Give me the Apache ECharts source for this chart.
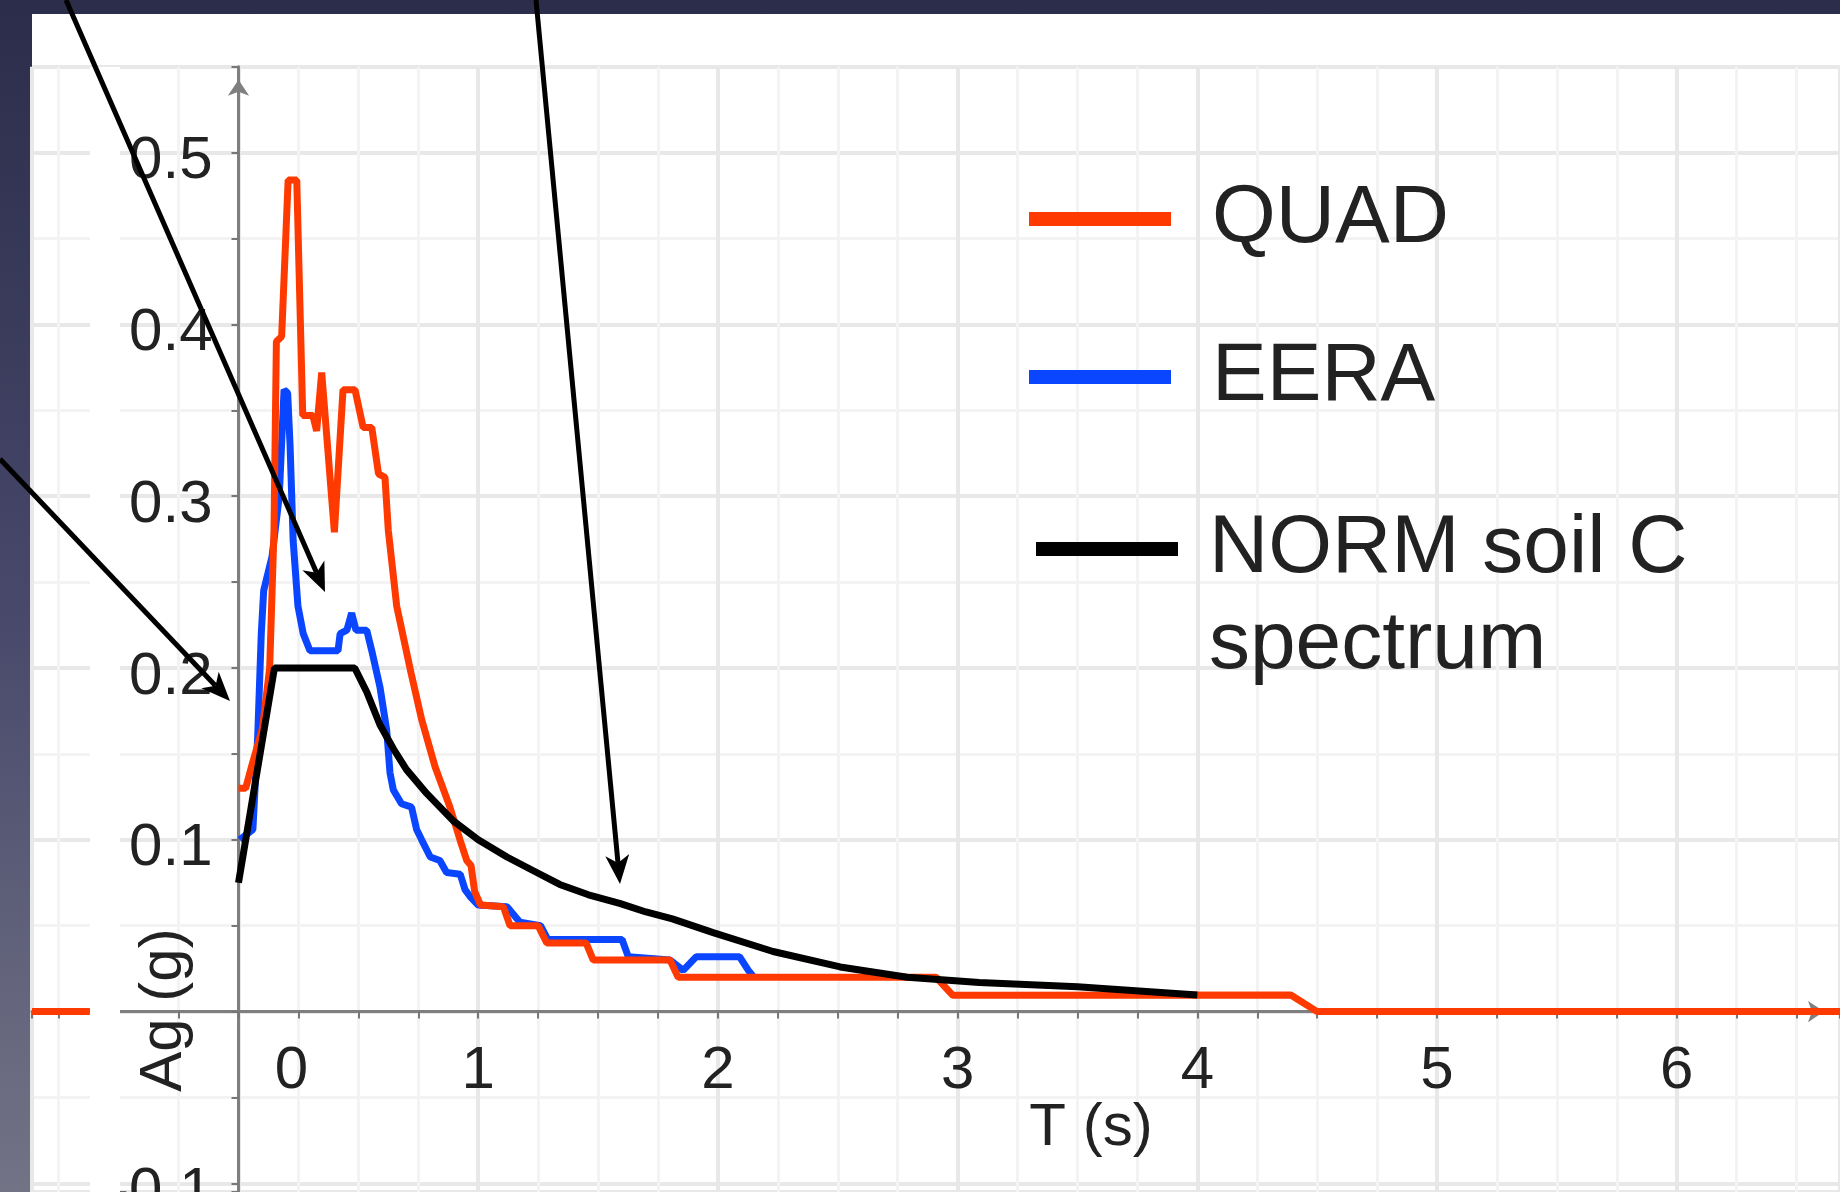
<!DOCTYPE html>
<html>
<head>
<meta charset="utf-8">
<script src="https://cdn.jsdelivr.net/npm/echarts@6/dist/echarts.min.js"></script>
<style>
  html, body { margin: 0; padding: 0; }
  body {
    width: 1840px; height: 1192px; overflow: hidden; position: relative;
    background: linear-gradient(180deg, #2b2d4a 0%, #47486a 50%, #737386 100%);
  }
  #paper { position: absolute; left: 32px; top: 14px; width: 1808px; height: 1178px; background: #fff; }
  #chart { position: absolute; left: 0; top: 0; width: 1840px; height: 1192px; }
</style>
</head>
<body>
<div id="paper"></div>
<div id="chart"></div>
<script>
// [T (s), Ag (g)]
const seriesNames = ['QUAD', 'EERA', 'NORM soil C spectrum'];

const quad = [
  [-0.8615, 0], [-0.62, 0], [-0.6, null],
  [0, 0.13], [0.03, 0.13], [0.055, 0.143], [0.1, 0.165], [0.13, 0.2], [0.148, 0.28],
  [0.158, 0.39], [0.18, 0.393], [0.207, 0.484], [0.243, 0.484], [0.268, 0.347],
  [0.31, 0.347], [0.326, 0.338], [0.347, 0.372], [0.40, 0.279], [0.436, 0.362],
  [0.486, 0.362], [0.52, 0.34], [0.556, 0.34], [0.584, 0.313], [0.611, 0.311],
  [0.625, 0.28], [0.66, 0.236], [0.72, 0.197], [0.764, 0.17], [0.82, 0.1425],
  [0.882, 0.119], [0.924, 0.1], [0.952, 0.088], [0.97, 0.085], [0.985, 0.07],
  [1.01, 0.062], [1.105, 0.061], [1.133, 0.05], [1.25, 0.05], [1.286, 0.04],
  [1.45, 0.04], [1.48, 0.03], [1.80, 0.03], [1.834, 0.02], [2.91, 0.02],
  [2.98, 0.0095], [4.39, 0.0097], [4.5, 0], [6.681, 0]
];

const eera = [
  [0.005, 0.1], [0.06, 0.106], [0.08, 0.16], [0.095, 0.22], [0.105, 0.245],
  [0.14, 0.265], [0.17, 0.30], [0.19, 0.362], [0.205, 0.36], [0.215, 0.33],
  [0.228, 0.274], [0.248, 0.236], [0.27, 0.22], [0.298, 0.21], [0.415, 0.21],
  [0.424, 0.22], [0.452, 0.222], [0.472, 0.232], [0.49, 0.222], [0.535, 0.222],
  [0.556, 0.21], [0.59, 0.189], [0.618, 0.164], [0.632, 0.139], [0.646, 0.129],
  [0.68, 0.121], [0.722, 0.119], [0.743, 0.106], [0.764, 0.1], [0.8, 0.09],
  [0.84, 0.088], [0.868, 0.081], [0.925, 0.08], [0.945, 0.071], [0.966, 0.067],
  [1.0, 0.062], [1.12, 0.061], [1.174, 0.052], [1.26, 0.05], [1.29, 0.042],
  [1.6, 0.042], [1.626, 0.032], [1.80, 0.03], [1.855, 0.024], [1.91, 0.032],
  [2.09, 0.032], [2.127, 0.024], [2.15, 0.02]
];

const norm = [
  [0, 0.075], [0.15, 0.2], [0.485, 0.2], [0.535, 0.186], [0.59, 0.167],
  [0.646, 0.153], [0.70, 0.141], [0.785, 0.127], [0.896, 0.111], [1.0, 0.1],
  [1.12, 0.09], [1.23, 0.082], [1.34, 0.074], [1.46, 0.068], [1.59, 0.063],
  [1.7, 0.058], [1.81, 0.054], [1.98, 0.046], [2.23, 0.035], [2.51, 0.026],
  [2.79, 0.020], [3.09, 0.017], [3.5, 0.0145], [4.0, 0.0097]
];

// annotation arrows drawn over the slide, in page pixels
const arrows = [
  [[66, 0], [325, 592]],
  [[536, 0], [620, 884]],
  [[0, 459], [230, 701]]
];

const FONT = '"Liberation Sans", Arial, Helvetica, sans-serif';
const INK = '#222';

// plot box and ranges
const G = { left: 32, top: 66.7, width: 1808, height: 1125.3 };
const xRange = [-0.8615, 6.681];
const yRange = [-0.105, 0.55];
// axes cross at 0: push each axis in from its grid edge
const yAxisOffset = -(0 - xRange[0]) / (xRange[1] - xRange[0]) * G.width;
const xAxisOffset = -(0 - yRange[0]) / (yRange[1] - yRange[0]) * G.height;

function arrowParts(a) {
  const p0 = a[0], p1 = a[1];
  const dx = p1[0] - p0[0], dy = p1[1] - p0[1];
  const len = Math.hypot(dx, dy);
  const ux = dx / len, uy = dy / len, nx = -uy, ny = ux;
  const head = 29, half = 12, notch = 8;
  const bx = p1[0] - ux * head, by = p1[1] - uy * head;
  const mx = p1[0] - ux * (head - notch), my = p1[1] - uy * (head - notch);
  return [
    { type: 'line', z: 100, shape: { x1: p0[0], y1: p0[1], x2: mx, y2: my },
      style: { stroke: '#000', lineWidth: 5 } },
    { type: 'polygon', z: 100,
      shape: { points: [p1, [bx + nx * half, by + ny * half], [mx, my], [bx - nx * half, by - ny * half]] },
      style: { fill: '#000' } }
  ];
}

const chart = echarts.init(document.getElementById('chart'));

const isStep = (v, s) => Math.abs(v / s - Math.round(v / s)) < 1e-6;

const legendBase = {
  orient: 'vertical', padding: 0, icon: 'rect', itemWidth: 142, itemHeight: 14,
  selectedMode: false
};

chart.setOption({
  animation: false,
  grid: { left: G.left, top: G.top, width: G.width, height: G.height, containLabel: false, outerBoundsMode: 'none' },
  xAxis: {
    type: 'value', min: xRange[0], max: xRange[1], minInterval: 1, maxInterval: 1,
    position: 'bottom', offset: xAxisOffset,
    axisLine: { onZero: false, symbol: ['none', 'arrow'], symbolSize: [16, 16], symbolOffset: [0, -16],
      lineStyle: { color: '#7f7f7f', width: 3 } },
    axisTick: { show: true, length: 7, lineStyle: { color: '#777', width: 2 } },
    minorTick: { show: true, splitNumber: 4, length: 7, lineStyle: { color: '#777', width: 2 } },
    splitLine: { show: true, lineStyle: { color: '#e8e8e8', width: 4 } },
    minorSplitLine: { show: true, lineStyle: { color: '#f3f3f3', width: 3 } },
    axisLabel: {
      fontSize: 60, lineHeight: 60, fontFamily: FONT, color: INK, margin: 30, hideOverlap: false,
      formatter: v => {
        if (!isStep(v, 1)) return '';
        const n = Math.round(v);
        return n === 0 ? '{z|0}' : String(n);
      },
      rich: { z: { fontSize: 60, lineHeight: 60, fontFamily: FONT, color: INK, padding: [0, 0, 0, 106] } }
    }
  },
  yAxis: {
    type: 'value', min: yRange[0], max: yRange[1], minInterval: 0.1, maxInterval: 0.1,
    position: 'left', offset: yAxisOffset,
    axisLine: { onZero: false, symbol: ['none', 'arrow'], symbolSize: [16, 16], symbolOffset: [0, -13],
      lineStyle: { color: '#7f7f7f', width: 3 } },
    axisTick: { show: true, length: 7, lineStyle: { color: '#777', width: 2 } },
    minorTick: { show: true, splitNumber: 2, length: 7, lineStyle: { color: '#777', width: 2 } },
    splitLine: { show: true, lineStyle: { color: '#e8e8e8', width: 4 } },
    minorSplitLine: { show: true, lineStyle: { color: '#f3f3f3', width: 3 } },
    axisLabel: {
      fontSize: 60, fontFamily: FONT, color: INK, margin: 26, hideOverlap: false,
      formatter: v => (isStep(v, 0.1) && Math.abs(v) > 1e-6 ? '{v|' + v.toFixed(1) + '}' : ''),
      rich: { v: { fontSize: 60, lineHeight: 60, fontFamily: FONT, color: INK, padding: [18, 0, 0, 0] } }
    }
  },
  legend: [
    Object.assign({}, legendBase, { data: [seriesNames[0]], left: 1029, top: 169,
      textStyle: { fontSize: 82, lineHeight: 100, fontFamily: FONT, color: INK, padding: [0, 0, 0, 36] } }),
    Object.assign({}, legendBase, { data: [seriesNames[1]], left: 1029, top: 327,
      textStyle: { fontSize: 82, lineHeight: 100, fontFamily: FONT, color: INK, padding: [0, 0, 0, 36] } }),
    Object.assign({}, legendBase, { data: [seriesNames[2]], left: 1036, top: 405,
      // blank first line keeps the swatch level with "NORM soil C"
      formatter: () => '\nNORM soil C\nspectrum',
      textStyle: { fontSize: 82, lineHeight: 96, fontFamily: FONT, color: INK, padding: [0, 0, 0, 26] } })
  ],
  series: [
    { name: seriesNames[1], type: 'line', data: eera, z: 2, showSymbol: false, symbol: 'none',
      itemStyle: { color: '#0a46ff' }, lineStyle: { color: '#0a46ff', width: 7 } },
    { name: seriesNames[0], type: 'line', data: quad, z: 3, showSymbol: false, symbol: 'none',
      itemStyle: { color: '#ff3a00' }, lineStyle: { color: '#ff3a00', width: 7 } },
    { name: seriesNames[2], type: 'line', data: norm, z: 4, showSymbol: false, symbol: 'none',
      itemStyle: { color: '#000' }, lineStyle: { color: '#000', width: 7 } }
  ],
  graphic: [
    { type: 'rect', z: 1, shape: { x: 90, y: 67, width: 30, height: 1125 }, style: { fill: '#fff' } },
    { type: 'text', z: 100, x: 164, y: 1010, rotation: Math.PI / 2,
      style: { text: 'Ag (g)', fontSize: 60, fontFamily: FONT, fill: INK, align: 'center', verticalAlign: 'middle' } },
    { type: 'text', z: 100, x: 1091, y: 1128,
      style: { text: 'T (s)', fontSize: 60, fontFamily: FONT, fill: INK, align: 'center', verticalAlign: 'middle' } }
  ].concat(...arrows.map(arrowParts))
});
</script>
</body>
</html>
